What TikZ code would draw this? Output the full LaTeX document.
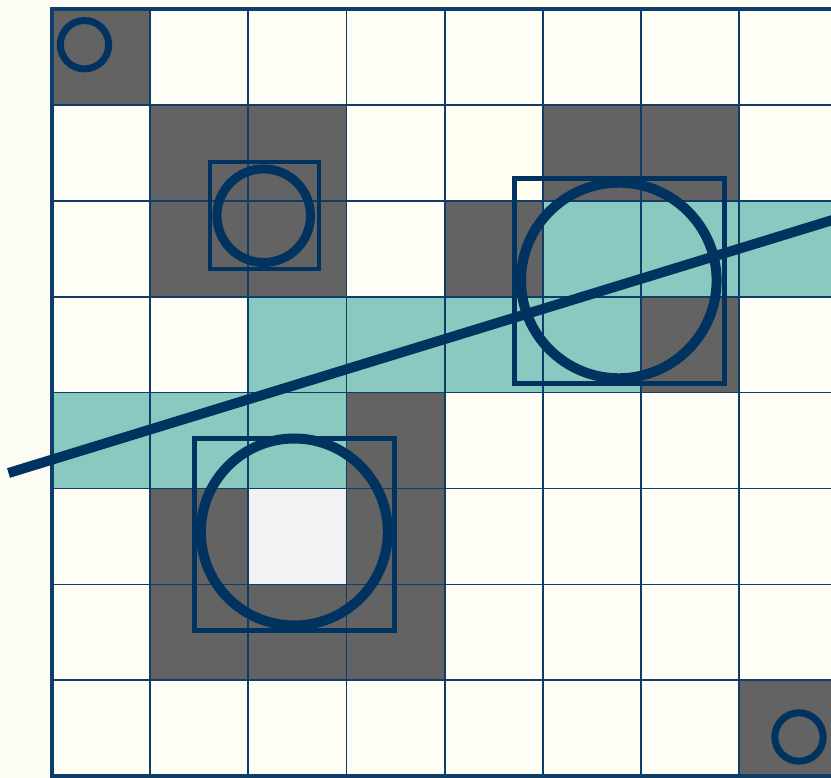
\documentclass[tikz,border=0pt]{standalone}
\definecolor{bgcol}{HTML}{FCFBF4}
\definecolor{creamcell}{HTML}{FEFEF6}
\definecolor{darkcell}{HTML}{636363}
\definecolor{tealcell}{HTML}{8AC9C0}
\definecolor{lightcell}{HTML}{F2F2F4}
\definecolor{gridcol}{HTML}{0F3D6A}
\definecolor{navy}{HTML}{00335F}
\begin{document}
\begin{tikzpicture}[x=1pt,y=-1pt,
  gridline/.style={draw=gridcol,line width=1.8pt},
  frame/.style={draw=gridcol,line width=4.3pt},
  markbox/.style={draw=navy,line width=5pt},
  ring/.style={draw=navy,line width=10pt},
  smallring/.style={draw=navy,line width=7pt},
  fitline/.style={draw=navy,line width=10pt,line cap=butt}]
\useasboundingbox (0,0) rectangle (831,778);
\clip (0,0) rectangle (831,778);
\fill[bgcol] (0,0) rectangle (831,778);
\fill[creamcell] (52,9) rectangle (837.2,776.2);
\fill[yellow!6!white] ({52+98.15*4},{9+95.9*1}) rectangle ++(98.15,95.9);
% dark cells
\foreach \c/\r in {0/0,1/1,2/1,5/1,6/1,1/2,2/2,4/2,6/3,3/4,1/5,3/5,1/6,2/6,3/6,7/7}
  \fill[darkcell] ({52+98.15*\c},{9+95.9*\r}) rectangle ++(98.15,95.9);
% teal cells
\foreach \c/\r in {5/2,6/2,7/2,2/3,3/3,4/3,5/3,0/4,1/4,2/4}
  \fill[tealcell] ({52+98.15*\c},{9+95.9*\r}) rectangle ++(98.15,95.9);
% light cell
\fill[lightcell] ({52+98.15*2},{9+95.9*5}) rectangle ++(98.15,95.9);
% grid
\foreach \c in {1,...,7}
  \draw[gridline] ({52+98.15*\c},9) -- ({52+98.15*\c},776.2);
\foreach \r in {1,...,7}
  \draw[gridline] (52,{9+95.9*\r}) -- (837.2,{9+95.9*\r});
\draw[frame] (52,9) rectangle (837.2,776.2);
% boxes
\draw[markbox,line width=4pt] (209.8,162) rectangle (319,269.5);
\draw[markbox] (514.2,178.8) rectangle (724.5,383.3);
\draw[markbox] (194.2,438.5) rectangle (394.7,630.8);
% circles
\draw[ring,line width=9pt] (263.7,215.7) circle[radius=46.8];
\draw[ring] (618.8,280.5) circle[radius=97.8];
\draw[ring] (294.3,532) circle[radius=93.5];
\draw[smallring] (84.5,44.7) circle[radius=24.2];
\draw[smallring] (799,737) circle[radius=24.2];
% line
\coordinate (L1) at (8.5,473);
\coordinate (L2) at (845,216.2);
\draw[fitline] (L1) -- (L2);
\end{tikzpicture}
\end{document}
